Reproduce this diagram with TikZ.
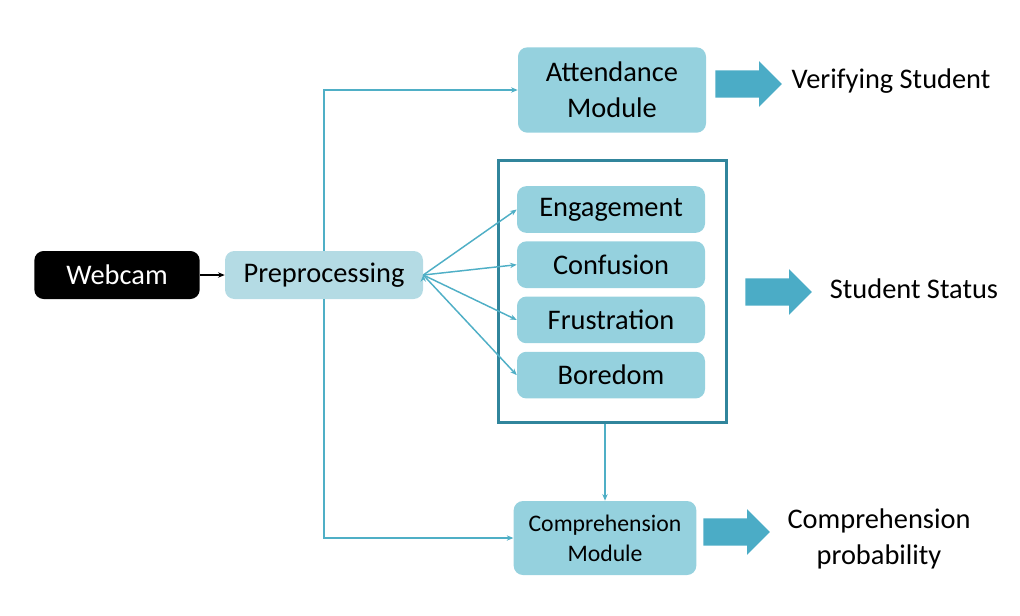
\documentclass[tikz,border=0pt]{standalone}
\usepackage{fontspec}
\setmainfont{Carlito}
\usetikzlibrary{positioning,shapes.arrows,arrows.meta}

\definecolor{prefill}{HTML}{B4DBE4}
\definecolor{modfill}{HTML}{95D1DE}
\definecolor{linkcol}{HTML}{4FAFC6}
\definecolor{bigcol}{HTML}{4BACC6}
\definecolor{framecol}{HTML}{31859C}

\tikzset{
  box/.style={rounded corners=7pt, inner sep=0pt, align=center, font=\fontsize{21.3}{27}\selectfont},
  modbox/.style={box, fill=modfill},
  emobox/.style={modbox, minimum width=141pt, minimum height=35pt},
  link/.style={draw=linkcol, line width=1.1pt, -{Stealth[length=5pt,width=4pt]}},
  bigarrow/.style={single arrow, fill=bigcol, draw=none, inner xsep=0pt, inner ysep=10pt,
    single arrow head extend=7pt, minimum height=50pt, anchor=tail},
  result/.style={align=center, font=\fontsize{21.3}{27}\selectfont}
}

\begin{document}
\begin{tikzpicture}[x=0.75pt,y=-0.75pt]
      \useasboundingbox (0,0) rectangle (1020,615);

      \node[box, fill=black, text=white, minimum width=124pt, minimum height=36pt, name=cam] at (117,275) {Webcam};
      \node[box, fill=prefill, minimum width=148.5pt, minimum height=36pt, name=pre] at (324,275) {Preprocessing};

      \node[modbox, minimum width=141pt, minimum height=64pt, name=att] at (612,90) {Attendance\\Module};
      \node[bigarrow, name=arrA] at (715,84) {};
      \node[result, name=verify] at (891,81) {Verifying Student};

      \node[draw=framecol, line width=2.25pt, minimum width=171pt, minimum height=197pt, name=frame] at (612,291.5) {};
      \node[emobox, name=eng] at (611,209.5) {Engagement};
      \node[emobox, name=conf, below=6pt of eng] {Confusion};
      \node[emobox, name=frus, below=6pt of conf] {Frustration};
      \node[emobox, name=bore, below=6pt of frus] {Boredom};
      \node[bigarrow, name=arrS] at (745,292) {};
      \node[result, name=status] at (914,289) {Student Status};

      \node[modbox, minimum width=137pt, minimum height=55.5pt, font=\fontsize{17.8}{22.5}\selectfont, name=comp] at (605,538) {Comprehension\\Module};
      \node[bigarrow, name=arrC] at (703,532) {};
      \node[result, name=prob] at (879,539) {Comprehension\\probability};

      \draw[-{Stealth[length=5pt,width=4pt]}, line width=1pt] (cam) -- (pre);

      \path[link]
         (pre.north) |- (att.west);
      \path[link]
         (pre.south) |- (comp.west);
      \path[link] (pre.east) edge (eng.west)
         (pre.east) edge (conf.west)
         (pre.east) edge (frus.west)
         (pre.east) edge (bore.west);
      \path[link] (frame.south -| comp.north) -- (comp.north);
   \end{tikzpicture}
\end{document}
